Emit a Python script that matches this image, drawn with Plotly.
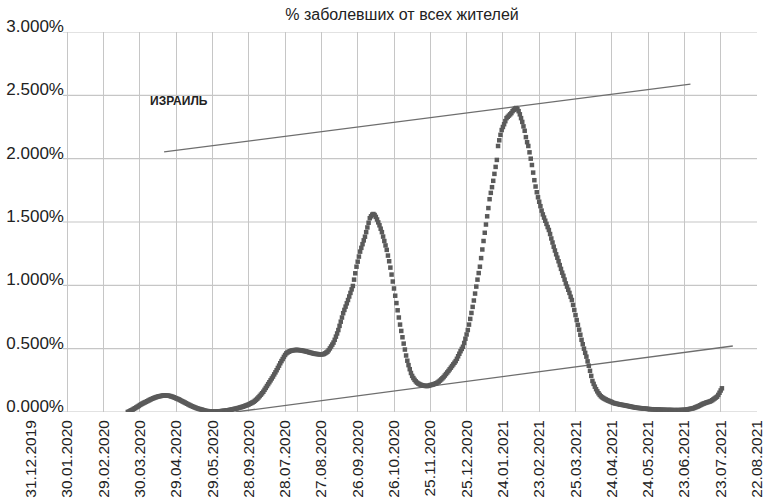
import plotly.graph_objects as go
import pandas as pd

# ---- data (percent of population), daily from start_date ----
start_date = "2020-03-20"
share_pct = [
    0.000, 0.004, 0.009, 0.014, 0.019, 0.025, 0.030, 0.036, 0.042, 0.048,
    0.055, 0.060, 0.066, 0.071, 0.076, 0.080, 0.085, 0.090, 0.095, 0.100,
    0.104, 0.108, 0.112, 0.116, 0.119, 0.122, 0.124, 0.126, 0.128, 0.130,
    0.131, 0.131, 0.130, 0.129, 0.128, 0.126, 0.123, 0.120, 0.116, 0.112,
    0.108, 0.104, 0.100, 0.095, 0.090, 0.085, 0.080, 0.075, 0.070, 0.065,
    0.060, 0.055, 0.050, 0.046, 0.042, 0.038, 0.034, 0.030, 0.027, 0.024,
    0.022, 0.019, 0.016, 0.013, 0.010, 0.008, 0.007, 0.006, 0.005, 0.004,
    0.004, 0.003, 0.003, 0.003, 0.004, 0.005, 0.006, 0.007, 0.008, 0.009,
    0.010, 0.011, 0.013, 0.014, 0.016, 0.018, 0.020, 0.022, 0.024, 0.026,
    0.028, 0.031, 0.033, 0.036, 0.039, 0.042, 0.045, 0.049, 0.052, 0.056,
    0.060, 0.065, 0.070, 0.075, 0.080, 0.088, 0.096, 0.105, 0.115, 0.126,
    0.137, 0.148, 0.160, 0.175, 0.190, 0.205, 0.220, 0.235, 0.250, 0.265,
    0.280, 0.297, 0.313, 0.330, 0.348, 0.366, 0.385, 0.402, 0.418, 0.435,
    0.450, 0.463, 0.470, 0.476, 0.480, 0.484, 0.486, 0.488, 0.489, 0.490,
    0.490, 0.489, 0.488, 0.487, 0.485, 0.483, 0.481, 0.479, 0.476, 0.474,
    0.471, 0.468, 0.466, 0.463, 0.461, 0.459, 0.458, 0.457, 0.456, 0.455,
    0.455, 0.456, 0.458, 0.463, 0.469, 0.476, 0.488, 0.502, 0.517, 0.532,
    0.548, 0.570, 0.595, 0.620, 0.647, 0.680, 0.713, 0.746, 0.780, 0.806,
    0.832, 0.858, 0.884, 0.912, 0.940, 0.968, 0.995, 1.045, 1.095, 1.147,
    1.187, 1.227, 1.266, 1.296, 1.325, 1.355, 1.384, 1.420, 1.457, 1.494,
    1.530, 1.545, 1.558, 1.563, 1.555, 1.540, 1.520, 1.497, 1.474, 1.447,
    1.420, 1.385, 1.350, 1.315, 1.280, 1.235, 1.190, 1.140, 1.085, 1.030,
    0.975, 0.918, 0.860, 0.803, 0.746, 0.690, 0.640, 0.590, 0.540, 0.493,
    0.446, 0.405, 0.370, 0.338, 0.308, 0.285, 0.268, 0.254, 0.242, 0.232,
    0.225, 0.220, 0.215, 0.212, 0.209, 0.207, 0.206, 0.205, 0.206, 0.208,
    0.212, 0.214, 0.217, 0.220, 0.223, 0.227, 0.233, 0.240, 0.248, 0.257,
    0.266, 0.276, 0.288, 0.300, 0.312, 0.324, 0.337, 0.350, 0.363, 0.376,
    0.389, 0.402, 0.420, 0.440, 0.460, 0.480, 0.498, 0.515, 0.545, 0.578,
    0.612, 0.647, 0.690, 0.735, 0.782, 0.830, 0.880, 0.935, 0.990, 1.045,
    1.097, 1.147, 1.215, 1.283, 1.350, 1.415, 1.480, 1.545, 1.610, 1.680,
    1.730, 1.775, 1.825, 1.880, 1.935, 1.990, 2.100, 2.145, 2.188, 2.226,
    2.250, 2.272, 2.296, 2.320, 2.330, 2.340, 2.350, 2.360, 2.375, 2.385,
    2.395, 2.400, 2.390, 2.375, 2.350, 2.320, 2.290, 2.255, 2.220, 2.170,
    2.130, 2.100, 2.050, 2.000, 1.950, 1.890, 1.830, 1.780, 1.735, 1.695,
    1.660, 1.625, 1.590, 1.560, 1.535, 1.510, 1.485, 1.460, 1.437, 1.405,
    1.370, 1.338, 1.305, 1.275, 1.245, 1.218, 1.190, 1.160, 1.130, 1.100,
    1.075, 1.045, 1.015, 0.990, 0.965, 0.940, 0.910, 0.884, 0.845, 0.805,
    0.765, 0.726, 0.688, 0.650, 0.610, 0.570, 0.535, 0.500, 0.467, 0.437,
    0.400, 0.365, 0.325, 0.285, 0.245, 0.222, 0.200, 0.180, 0.163, 0.148,
    0.135, 0.124, 0.116, 0.110, 0.104, 0.099, 0.094, 0.090, 0.086, 0.082,
    0.078, 0.073, 0.070, 0.067, 0.065, 0.063, 0.061, 0.059, 0.057, 0.055,
    0.054, 0.052, 0.050, 0.048, 0.046, 0.044, 0.042, 0.040, 0.038, 0.036,
    0.034, 0.033, 0.032, 0.031, 0.030, 0.029, 0.028, 0.027, 0.026, 0.025,
    0.024, 0.023, 0.022, 0.022, 0.021, 0.021, 0.020, 0.020, 0.019, 0.019,
    0.018, 0.018, 0.017, 0.017, 0.017, 0.016, 0.016, 0.016, 0.016, 0.016,
    0.015, 0.015, 0.015, 0.015, 0.015, 0.015, 0.015, 0.016, 0.016, 0.016,
    0.017, 0.018, 0.019, 0.021, 0.023, 0.025, 0.027, 0.029, 0.032, 0.036,
    0.040, 0.044, 0.048, 0.053, 0.058, 0.063, 0.067, 0.070, 0.074, 0.077,
    0.080, 0.083, 0.087, 0.093, 0.100, 0.107, 0.114, 0.121, 0.135, 0.152,
    0.170, 0.187,
]
dates = pd.date_range(start_date, periods=len(share_pct), freq="D")

# ---- axis ticks ----
tick_start = "2019-12-31"
tick_labels = [
    "31.12.2019", "30.01.2020", "29.02.2020", "30.03.2020", "29.04.2020",
    "29.05.2020", "28.09.2020", "28.07.2020", "27.08.2020", "26.09.2020",
    "26.10.2020", "25.11.2020", "25.12.2020", "24.01.2021", "23.02.2021",
    "25.03.2021", "24.04.2021", "24.05.2021", "23.06.2021", "23.07.2021",
    "22.08.2021",
]
tick_dates = pd.date_range(tick_start, periods=len(tick_labels), freq="30D")
y_ticks = [0.0, 0.5, 1.0, 1.5, 2.0, 2.5, 3.0]
y_tick_labels = ["0.000%", "0.500%", "1.000%", "1.500%", "2.000%", "2.500%", "3.000%"]

# ---- trend lines ----
upper_dates = ["2020-04-19", "2021-06-28"]
upper_vals = [2.053, 2.589]
lower_dates = ["2020-06-17", "2021-08-02"]
lower_vals = [0.0, 0.521]

title_text = "% заболевших от всех жителей"
label_text = "<b>ИЗРАИЛЬ</b>"
label_date = "2020-05-01"
label_val = 2.455

GRID = "#c6c6c6"
MARK = "#5a5a5a"
TREND = "#6e6e6e"

fig = go.Figure()
fig.add_trace(go.Scatter(x=upper_dates, y=upper_vals, mode="lines",
                         line=dict(color=TREND, width=1.3), hoverinfo="skip"))
fig.add_trace(go.Scatter(x=lower_dates, y=lower_vals, mode="lines",
                         line=dict(color=TREND, width=1.3), hoverinfo="skip"))
fig.add_trace(go.Scatter(x=dates, y=share_pct, mode="markers",
                         marker=dict(symbol="square", size=4.5, color=MARK,
                                     line=dict(width=0))))

grid_x0 = 0.044
for v in y_ticks:
    fig.add_shape(type="line", xref="paper", yref="y", x0=grid_x0, x1=1,
                  y0=v, y1=v, line=dict(color=GRID, width=1.2), layer="below")

fig.add_annotation(x=label_date, y=label_val, text=label_text, showarrow=False,
                   font=dict(family="Liberation Sans, Arial", size=12, color="#222"),
                   xanchor="center", yanchor="middle")

fig.update_layout(
    width=766, height=498,
    margin=dict(l=31, r=9, t=32, b=86, autoexpand=False),
    paper_bgcolor="white", plot_bgcolor="white",
    showlegend=False,
    font=dict(family="Liberation Sans, Arial", color="#222"),
    title=dict(text=title_text, x=402 / 766, xanchor="center",
               y=1 - 14 / 498, yanchor="middle", automargin=False,
               font=dict(size=16, color="#222")),
)
fig.update_xaxes(
    type="date", range=[tick_dates[0], tick_dates[-1]],
    tickmode="array", tickvals=tick_dates, ticktext=tick_labels,
    tickangle=-90, tickfont=dict(size=15.5, color="#222"),
    showgrid=True, gridcolor=GRID, gridwidth=1.2,
    showline=False, zeroline=False, ticks="", automargin=False,
    ticklabelstandoff=4,
)
fig.update_yaxes(
    range=[0, 3.0], tickmode="array", tickvals=y_ticks, ticktext=y_tick_labels,
    tickfont=dict(size=17, color="#222"),
    showgrid=False, zeroline=False, showline=False, ticks="", automargin=False,
    ticklabelstandoff=-34, ticklabelshift=-6,
)

fig.write_html(
    "out.html",
    config={"displayModeBar": False},
    post_script="document.body.style.margin='0';document.body.style.padding='0';",
)
